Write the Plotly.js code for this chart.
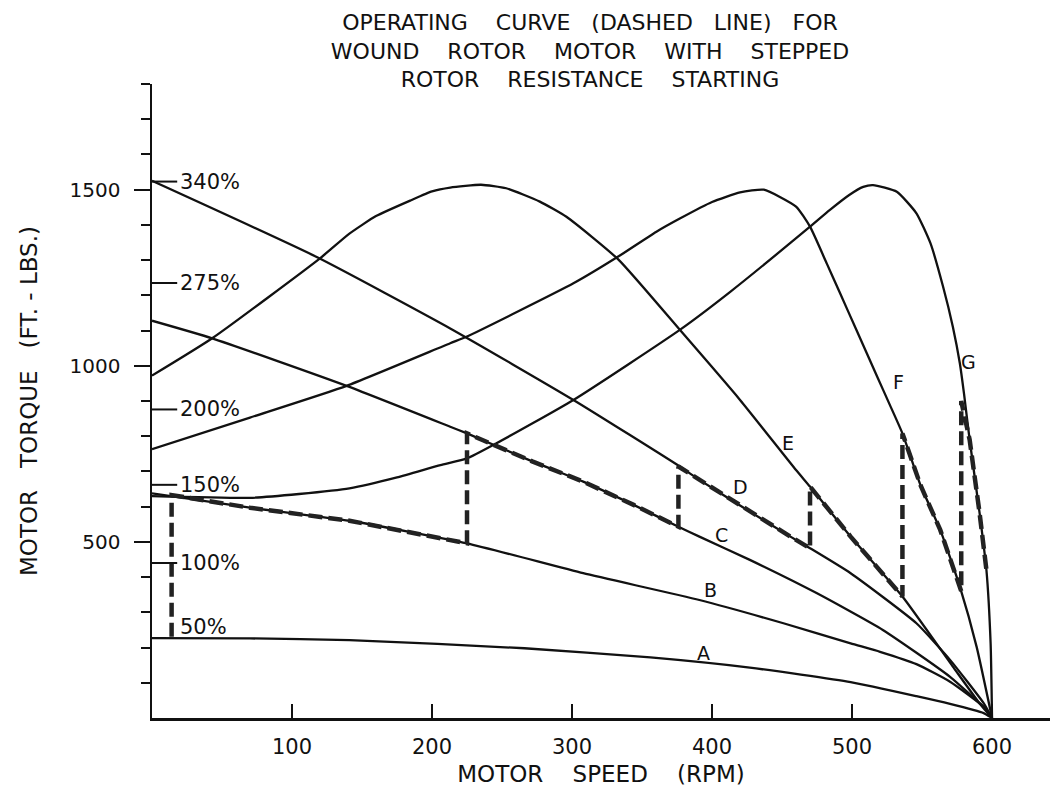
<!DOCTYPE html>
<html><head><meta charset="utf-8">
<script src="https://cdn.plot.ly/plotly-3.0.1.min.js"></script>
<style>html,body{margin:0;padding:0;background:#fff}</style>
</head><body><div id="chart" style="width:1057px;height:793px"></div>
<script>
// ---- data (speed in RPM, torque in ft-lb) ----
const speedA  = [0, 70, 141, 266, 356, 427, 499, 546, 570, 594, 600];
const torqueA = [227, 226, 221, 198, 172, 143, 102, 62, 40, 14, 0];

const speedB  = [0, 70, 141, 225, 308, 391, 451, 499, 520, 546, 570, 594, 600];
const torqueB = [638, 597, 560, 496, 411, 335, 269, 212, 188, 153, 103, 32, 0];

const speedC  = [0, 43, 139, 213, 225, 272, 308, 344, 376, 391, 427, 475, 522, 570, 596, 600];
const torqueC = [1128, 1078, 943, 827, 808, 728, 671, 605, 543, 515, 449, 354, 250, 117, 23, 0];

const speedD  = [0, 118, 213, 301, 377, 391, 427, 456, 470, 499, 546, 570, 594, 600];
const torqueD = [1525, 1308, 1106, 903, 714, 676, 586, 515, 482, 411, 269, 165, 42, 0];

const speedE  = [0, 43, 120, 141, 160, 185, 200, 213, 235, 253, 277, 296, 333, 377, 420, 460, 470, 499, 536, 572, 591, 600];
const torqueE = [972, 1078, 1305, 1375, 1425, 1470, 1495, 1506, 1514, 1504, 1466, 1423, 1302, 1102, 903, 704, 657, 515, 345, 146, 42, 0];

const speedF  = [0, 70, 139, 213, 225, 301, 333, 360, 377, 400, 420, 437, 460, 470, 482, 491, 503, 518, 527, 536, 549, 563, 577, 589, 600];
const torqueF = [763, 853, 943, 1064, 1083, 1234, 1310, 1380, 1418, 1465, 1492, 1500, 1452, 1395, 1290, 1210, 1103, 969, 889, 808, 660, 534, 373, 202, 0];

const speedG  = [0, 70, 105, 141, 175, 206, 225, 246, 301, 377, 413, 470, 484, 498, 508, 515, 532, 546, 556, 565, 572, 577, 580, 584, 591, 596, 599, 600];
const torqueG = [630, 625, 636, 652, 683, 718, 737, 780, 903, 1102, 1210, 1395, 1442, 1485, 1508, 1513, 1494, 1433, 1348, 1225, 1111, 1007, 920, 790, 585, 420, 210, 0];

// operating curve (dashed line)
const opSpeed  = [14, 14, 70, 141, 225, 225, 272, 308, 344, 376, 376, 391, 427, 456, 470, 470, 499, 536, 536, 549, 563, 578, 578, 584, 591, 596];
const opTorque = [231, 633, 597, 560, 496, 808, 728, 671, 605, 543, 714, 676, 586, 515, 482, 657, 515, 345, 808, 660, 534, 360, 900, 790, 585, 420];

// curve letter labels
const curveLetters = ['A', 'B', 'C', 'D', 'E', 'F', 'G'];
const letterSpeed  = [394, 399, 407, 420, 454, 533, 583];
const letterTorque = [185, 363, 520, 656, 781, 954, 1011];

// percentage labels on the torque axis
const pctLabels = ['340%', '275%', '200%', '150%', '100%', '50%'];
const pctTorque = [1523, 1235, 876, 662, 440, 259];

// axis ticks
const xTickVals = [100, 200, 300, 400, 500, 600];
const xTickText = ['100', '200', '300', '400', '500', '600'];
const yTickVals = [500, 1000, 1500];
const yTickText = ['500', '1000', '1500'];
const yMinorVals = [100, 200, 300, 400, 600, 700, 800, 900, 1100, 1200, 1300, 1400, 1600, 1700, 1800];

// ---- drawing ----
const FONT = 'DejaVu Sans, Liberation Sans, sans-serif';
const INK = '#111';
const nb = n => '\u00a0'.repeat(n);

const curves = [
  [speedA, torqueA], [speedB, torqueB], [speedC, torqueC], [speedD, torqueD],
  [speedE, torqueE], [speedF, torqueF], [speedG, torqueG]
];
const traces = curves.map((c, i) => ({
  type: 'scatter', mode: 'lines', x: c[0], y: c[1],
  name: curveLetters[i],
  line: {color: INK, width: 2.3, shape: 'spline', smoothing: 0.5},
  hoverinfo: 'skip'
}));
traces.push({
  type: 'scatter', mode: 'lines', x: opSpeed, y: opTorque, name: 'Operating curve',
  line: {color: '#222', width: 4.5, dash: '14px,6px'}, hoverinfo: 'skip'
});

const annotations = [];
curveLetters.forEach((t, i) => annotations.push({
  x: letterSpeed[i], y: letterTorque[i], xref: 'x', yref: 'y', text: t,
  showarrow: false, font: {family: FONT, size: 19, color: INK}
}));
pctLabels.forEach((t, i) => annotations.push({
  x: 0, y: pctTorque[i], xref: 'x', yref: 'y', text: t, xanchor: 'left', xshift: 26,
  showarrow: false, font: {family: FONT, size: 21, color: INK}
}));
const shapes = [];
pctLabels.forEach((t, i) => {
  if (t !== '50%') shapes.push({
    type: 'line', xref: 'x', yref: 'y', x0: 0, x1: 18, y0: pctTorque[i], y1: pctTorque[i],
    line: {color: INK, width: 2}
  });
});

const title1 = 'OPERATING' + nb(4) + 'CURVE' + nb(3) + '(DASHED' + nb(3) + 'LINE)' + nb(3) + 'FOR';
const title2 = 'WOUND' + nb(4) + 'ROTOR' + nb(4) + 'MOTOR' + nb(4) + 'WITH' + nb(4) + 'STEPPED';
const title3 = 'ROTOR' + nb(4) + 'RESISTANCE' + nb(4) + 'STARTING';

const layout = {
  width: 1057, height: 793,
  margin: {l: 152, r: 7, t: 84, b: 75},
  paper_bgcolor: '#fff', plot_bgcolor: '#fff',
  showlegend: false,
  font: {family: FONT, color: INK},
  title: {
    text: title1 + '<br>' + title2 + '<br>' + title3,
    font: {family: FONT, size: 22, color: INK},
    x: 590 / 1057, xref: 'container', xanchor: 'center',
    y: 1 - 30 / 793, yref: 'container', yanchor: 'top'
  },
  xaxis: {
    range: [0, 641.4], showgrid: false, zeroline: false,
    showline: true, linecolor: INK, linewidth: 2.5,
    ticks: 'inside', ticklen: 14, tickwidth: 2, tickcolor: INK,
    tickmode: 'array', tickvals: xTickVals, ticktext: xTickText,
    tickfont: {family: FONT, size: 21, color: INK}, ticklabelstandoff: 8,
    title: {text: 'MOTOR' + nb(4) + 'SPEED' + nb(4) + '(RPM)', font: {family: FONT, size: 23, color: INK}, standoff: 8}
  },
  yaxis: {
    range: [0, 1800], showgrid: false, zeroline: false,
    showline: true, linecolor: INK, linewidth: 2.5,
    ticks: 'outside', ticklen: 16, tickwidth: 2, tickcolor: INK,
    tickmode: 'array', tickvals: yTickVals, ticktext: yTickText,
    tickfont: {family: FONT, size: 20, color: INK}, ticklabelstandoff: 9,
    minor: {tickmode: 'array', tickvals: yMinorVals, ticks: 'outside', ticklen: 9, tickwidth: 2, tickcolor: INK, showgrid: false},
    title: {text: 'MOTOR' + nb(3) + 'TORQUE' + nb(3) + '(FT.' + nb(1) + '-' + nb(1) + 'LBS.)', font: {family: FONT, size: 23, color: INK}, standoff: 26}
  },
  annotations: annotations,
  shapes: shapes
};

Plotly.newPlot('chart', traces, layout, {staticPlot: true, displayModeBar: false});
</script></body></html>
